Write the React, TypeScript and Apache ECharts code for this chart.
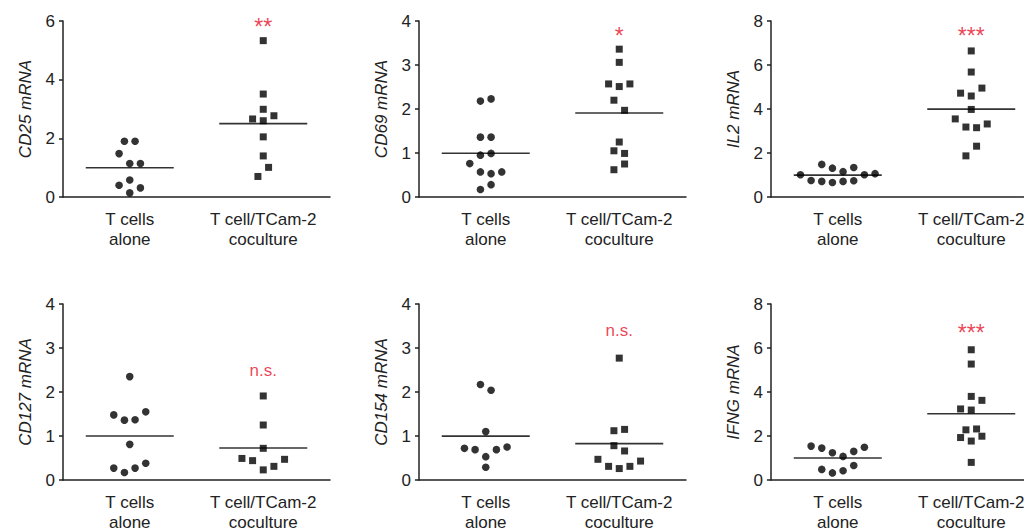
import React, { useEffect, useRef } from "react";
import * as echarts from "echarts";

const categories = ["T cells\nalone", "T cell/TCam-2\ncoculture"];

const genes = ["CD25", "CD69", "IL2", "CD127", "CD154", "IFNG"];
const yMax = [6, 4, 8, 4, 4, 8];
const yInterval = [2, 1, 2, 1, 1, 2];

// T cells alone (circles)
const alone = [
  [1.9, 1.9, 1.48, 1.14, 1.14, 0.58, 0.4, 0.31, 0.14],
  [2.18, 2.23, 1.36, 1.36, 0.95, 0.99, 0.76, 0.57, 0.53, 0.57, 0.28, 0.17],
  [1.01, 0.75, 1.48, 0.71, 1.31, 0.66, 1.15, 0.71, 1.34, 0.74, 1.01, 1.06],
  [2.35, 1.48, 1.36, 1.37, 1.55, 0.81, 0.27, 0.17, 0.27, 0.38],
  [2.17, 2.04, 1.1, 0.72, 0.69, 0.69, 0.75, 0.53, 0.29],
  [1.54, 1.45, 1.24, 1.07, 1.3, 1.49, 0.48, 0.32, 0.42, 0.66],
];
const aloneSlot = [
  [-1, 1, -2, 0, 2, 0, -2, 2, 0],
  [-1, 1, -1, 1, -1, 1, -3, -1, 1, 3, 1, -1],
  [-7, -5, -3, -3, -1, -1, 1, 1, 3, 3, 5, 7],
  [0, -3, -1, 1, 3, 0, -3, -1, 1, 3],
  [-1, 1, 0, -4, -2, 2, 4, 0, 0],
  [-5, -3, -1, 1, 3, 5, -3, -1, 1, 3],
];

// T cell/TCam-2 coculture (squares)
const cocult = [
  [5.33, 3.51, 2.99, 2.66, 2.6, 2.77, 2.05, 1.4, 1.01, 0.7],
  [3.36, 3.06, 2.57, 2.51, 2.57, 2.2, 1.97, 1.25, 1.05, 0.99, 0.75, 0.62],
  [6.64, 5.68, 4.72, 4.95, 4.59, 3.98, 3.55, 3.18, 3.15, 3.32, 2.31, 1.87],
  [1.91, 1.25, 0.72, 0.49, 0.44, 0.23, 0.31, 0.47],
  [2.77, 1.12, 1.15, 0.78, 0.66, 0.47, 0.31, 0.26, 0.31, 0.43],
  [5.92, 5.27, 3.8, 3.62, 3.23, 3.18, 2.28, 2.32, 1.93, 1.99, 1.77, 0.8],
];
const cocultSlot = [
  [0, 0, 0, -2, 0, 2, 0, 0, 1, -1],
  [0, 0, -2, 0, 2, -1, 1, 0, -1, 1, 1, -1],
  [0, 0, -2, 2, 0, 0, -3, -1, 1, 3, 1, -1],
  [0, 0, 0, -4, -2, 0, 2, 4],
  [0, -1, 1, -1, 1, -4, -2, 0, 2, 4],
  [0, 0, 0, 2, -2, 0, -1, 1, -2, 2, 0, 0],
];

const sigText = ["**", "*", "***", "n.s.", "n.s.", "***"];
const sigY = [5.8, 3.66, 7.3, 2.49, 3.39, 6.7];

const FONT = 'Arial, "Liberation Sans", sans-serif';
const TEXT = "#222";
const RED = "#e8112d";
const SLOT_PX = 5.33;

const mean = (a: number[]) => a.reduce((s, v) => s + v, 0) / a.length;

export default function App() {
  const ref = useRef<HTMLDivElement>(null);
  useEffect(() => {
    if (!ref.current) return;
    const chart = echarts.init(ref.current, null, { renderer: "svg" });
    const lefts = [63, 419, 771];
    const tops = [21, 304];
    const grid: any[] = [];
    const xAxis: any[] = [];
    const yAxis: any[] = [];
    const series: any[] = [];
    genes.forEach((g, i) => {
      const col = i % 3;
      const row = Math.floor(i / 3);
      grid.push({
        left: lefts[col],
        width: 267,
        top: tops[row],
        height: 176,
        containLabel: false,
        outerBoundsMode: "none",
      });
      xAxis.push({
        type: "category",
        gridIndex: i,
        data: categories,
        boundaryGap: true,
        axisLine: { lineStyle: { color: TEXT, width: 1.5 } },
        axisTick: { alignWithLabel: true, length: 4, lineStyle: { color: TEXT, width: 1.5 } },
        axisLabel: { color: TEXT, fontSize: 17, fontFamily: FONT, lineHeight: 20, margin: 12, interval: 0 },
      });
      yAxis.push({
        type: "value",
        gridIndex: i,
        min: 0,
        max: yMax[i],
        interval: yInterval[i],
        name: g + " mRNA",
        nameLocation: "middle",
        nameGap: 29,
        nameTextStyle: { color: TEXT, fontSize: 17, fontFamily: FONT, fontStyle: "italic" },
        splitLine: { show: false },
        axisLine: { show: true, lineStyle: { color: TEXT, width: 1.5 } },
        axisTick: { show: true, length: 4, lineStyle: { color: TEXT, width: 1.5 } },
        axisLabel: { color: TEXT, fontSize: 17, fontFamily: FONT, margin: 8 },
      });
      series.push({
        type: "scatter",
        xAxisIndex: i,
        yAxisIndex: i,
        symbol: "circle",
        symbolSize: 7.6,
        itemStyle: { color: "#000" },
        data: alone[i].map((v, k) => ({ value: [0, v], symbolOffset: [aloneSlot[i][k] * SLOT_PX, 0] })),
        z: 3,
      });
      series.push({
        type: "scatter",
        xAxisIndex: i,
        yAxisIndex: i,
        symbol: "rect",
        symbolSize: 7,
        itemStyle: { color: "#000" },
        data: cocult[i].map((v, k) => ({ value: [1, v], symbolOffset: [cocultSlot[i][k] * SLOT_PX, 0] })),
        z: 3,
      });
      series.push({
        type: "scatter",
        xAxisIndex: i,
        yAxisIndex: i,
        symbol: "rect",
        symbolSize: [88, 1.6],
        itemStyle: { color: "#000" },
        data: [
          [0, mean(alone[i])],
          [1, mean(cocult[i])],
        ],
        z: 2,
      });
      series.push({
        type: "scatter",
        xAxisIndex: i,
        yAxisIndex: i,
        symbolSize: 0,
        data: [[1, sigY[i]]],
        label: {
          show: true,
          position: "inside",
          formatter: sigText[i],
          color: RED,
          fontFamily: FONT,
          fontSize: sigText[i] === "n.s." ? 17 : 23,
        },
      });
    });
    chart.setOption({ animation: false, backgroundColor: "#fff", grid, xAxis, yAxis, series });
    return () => chart.dispose();
  }, []);
  return <div ref={ref} style={{ position: "fixed", left: 0, top: 0, width: 1024, height: 531 }} />;
}
